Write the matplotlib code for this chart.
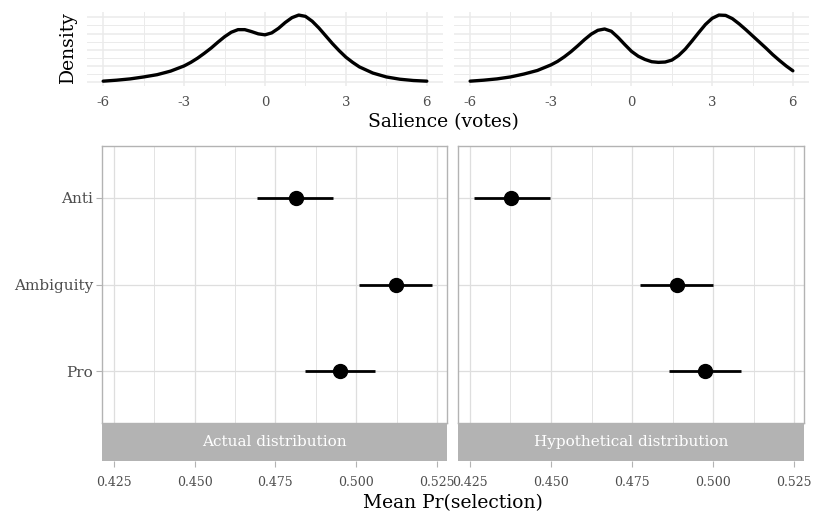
import matplotlib
matplotlib.use("Agg")
import matplotlib.pyplot as plt
import numpy as np

plt.rcParams['font.family'] = ['DejaVu Serif', 'DejaVu Sans']

# ---------------- data ----------------
# density of salience (votes)
actual_x = [-6, -5.5, -5, -4.5, -4, -3.5, -3, -2.75, -2.5, -2.25, -2, -1.75, -1.5, -1.25,
            -1, -0.75, -0.5, -0.25, 0, 0.25, 0.5, 0.75, 1, 1.25, 1.5, 1.75, 2, 2.25,
            2.5, 2.75, 3, 3.25, 3.5, 4, 4.5, 5, 5.5, 6]
actual_d = [0.003, 0.006, 0.010, 0.016, 0.023, 0.034, 0.050, 0.061, 0.074, 0.089, 0.105,
            0.123, 0.140, 0.154, 0.162, 0.162, 0.156, 0.149, 0.146, 0.152, 0.166, 0.184,
            0.199, 0.207, 0.203, 0.188, 0.167, 0.143, 0.119, 0.097, 0.077, 0.061, 0.047,
            0.028, 0.016, 0.009, 0.005, 0.003]

hypo_x = [-6, -5.5, -5, -4.5, -4, -3.5, -3, -2.75, -2.5, -2.25, -2, -1.75, -1.5, -1.25,
          -1, -0.75, -0.5, -0.25, 0, 0.25, 0.5, 0.75, 1, 1.25, 1.5, 1.75, 2, 2.25, 2.5,
          2.75, 3, 3.25, 3.5, 3.75, 4, 4.25, 4.5, 4.75, 5, 5.25, 5.5, 5.75, 6]
hypo_d = [0.003, 0.006, 0.010, 0.016, 0.025, 0.036, 0.053, 0.064, 0.078, 0.094, 0.112,
          0.131, 0.148, 0.160, 0.164, 0.157, 0.138, 0.116, 0.095, 0.080, 0.070, 0.063,
          0.061, 0.062, 0.068, 0.082, 0.102, 0.127, 0.153, 0.178, 0.197, 0.207, 0.206,
          0.196, 0.180, 0.162, 0.143, 0.124, 0.105, 0.085, 0.067, 0.050, 0.035]

categories = ['Pro', 'Ambiguity', 'Anti']
panels = ['Actual distribution', 'Hypothetical distribution']
actual_mean = [0.4949, 0.5122, 0.4813]
actual_lo = [0.4840, 0.5008, 0.4693]
actual_hi = [0.5059, 0.5233, 0.4927]
hypo_mean = [0.4975, 0.4889, 0.4378]
hypo_lo = [0.4863, 0.4775, 0.4261]
hypo_hi = [0.5085, 0.5000, 0.4496]

dens_ticks = [-6, -3, 0, 3, 6]
dens_ticklabels = ['-6', '-3', '0', '3', '6']
pr_ticks = [0.425, 0.450, 0.475, 0.500, 0.525]
pr_ticklabels = ['0.425', '0.450', '0.475', '0.500', '0.525']

# ---------------- figure ----------------
W, H = 818, 515
fig = plt.figure(figsize=(W / 100, H / 100), dpi=100)


def box(x0, y0, x1, y1):
    return [x0 / W, 1 - y1 / H, (x1 - x0) / W, (y1 - y0) / H]


g92 = '#ebebeb'
g87 = '#dedede'
g70 = '#b3b3b3'
g30 = '#4d4d4d'

# ---- top density panels ----
top_boxes = [box(87, 11.5, 443, 85.5), box(454, 11.5, 809, 85.5)]
for b, xs, ds in zip(top_boxes, [actual_x, hypo_x], [actual_d, hypo_d]):
    ax = fig.add_axes(b)
    ax.plot(xs, ds, color='black', lw=2.4, solid_capstyle='round',
            solid_joinstyle='round', zorder=3)
    ax.set_xlim(-6.6, 6.6)
    ax.set_ylim(-0.0104, 0.218)
    ax.set_xticks(dens_ticks)
    ax.set_xticklabels(dens_ticklabels, color=g30, fontsize=9.5)
    ax.set_xticks([-4.5, -1.5, 1.5, 4.5], minor=True)
    ax.set_yticks([0, 0.05, 0.10, 0.15, 0.20])
    ax.set_yticks([0.025, 0.075, 0.125, 0.175], minor=True)
    ax.set_yticklabels([])
    ax.tick_params(which='both', length=0, pad=7.5)
    ax.grid(which='major', color=g92, lw=1.1)
    ax.grid(which='minor', color=g92, lw=0.7)
    ax.set_axisbelow(True)
    for s in ax.spines.values():
        s.set_visible(False)

fig.text(68 / W, 1 - 47 / H, 'Density', rotation=90, ha='center', va='center',
         fontsize=13.5)
fig.text(443 / W, 1 - 122 / H, 'Salience (votes)', ha='center', va='center',
         fontsize=13.5)

# ---- bottom dot-and-whisker panels ----
xlim = (0.42140, 0.52805)
ypos = [1, 2, 3]
bot = [(102, 447), (458.3, 804)]
series = [(actual_mean, actual_lo, actual_hi), (hypo_mean, hypo_lo, hypo_hi)]
for i, ((x0, x1), (m, lo, hi), title) in enumerate(zip(bot, series, panels)):
    ax = fig.add_axes(box(x0, 146, x1, 423.3))
    ax.hlines(ypos, lo, hi, color='black', lw=2.0, zorder=3)
    ax.plot(m, ypos, 'o', color='black', ms=10, zorder=4)
    ax.set_xlim(*xlim)
    ax.set_ylim(0.4, 3.6)
    ax.set_xticks(pr_ticks)
    ax.set_xticks([0.4375, 0.4625, 0.4875, 0.5125], minor=True)
    ax.set_xticklabels([])
    ax.set_yticks(ypos)
    ax.tick_params(axis='x', which='both', length=0)
    if i == 0:
        ax.set_yticklabels(categories, color=g30, fontsize=11)
        ax.tick_params(axis='y', length=4, width=0.8, color=g70, pad=2.5)
    else:
        ax.set_yticklabels([])
        ax.tick_params(axis='y', length=0)
    ax.grid(which='major', color=g87, lw=0.9)
    ax.grid(which='minor', axis='x', color=g87, lw=0.6)
    ax.set_axisbelow(True)
    for s in ax.spines.values():
        s.set_color(g70)
        s.set_linewidth(1.0)

    sax = fig.add_axes(box(x0, 423.3, x1, 461))
    sax.set_facecolor(g70)
    sax.set_xlim(*xlim)
    sax.set_ylim(0, 1)
    sax.set_xticks(pr_ticks)
    sax.set_xticklabels(pr_ticklabels, color=g30, fontsize=9)
    sax.set_yticks([])
    sax.tick_params(axis='x', length=4, width=0.8, color=g70, pad=7)
    for s in sax.spines.values():
        s.set_visible(False)
    sax.text(0.5, 0.5, title, transform=sax.transAxes, ha='center', va='center',
             color='white', fontsize=11)

fig.text(453 / W, 1 - 503 / H, 'Mean Pr(selection)', ha='center', va='center',
         fontsize=13.5)

fig.savefig('out.png', dpi=100)
